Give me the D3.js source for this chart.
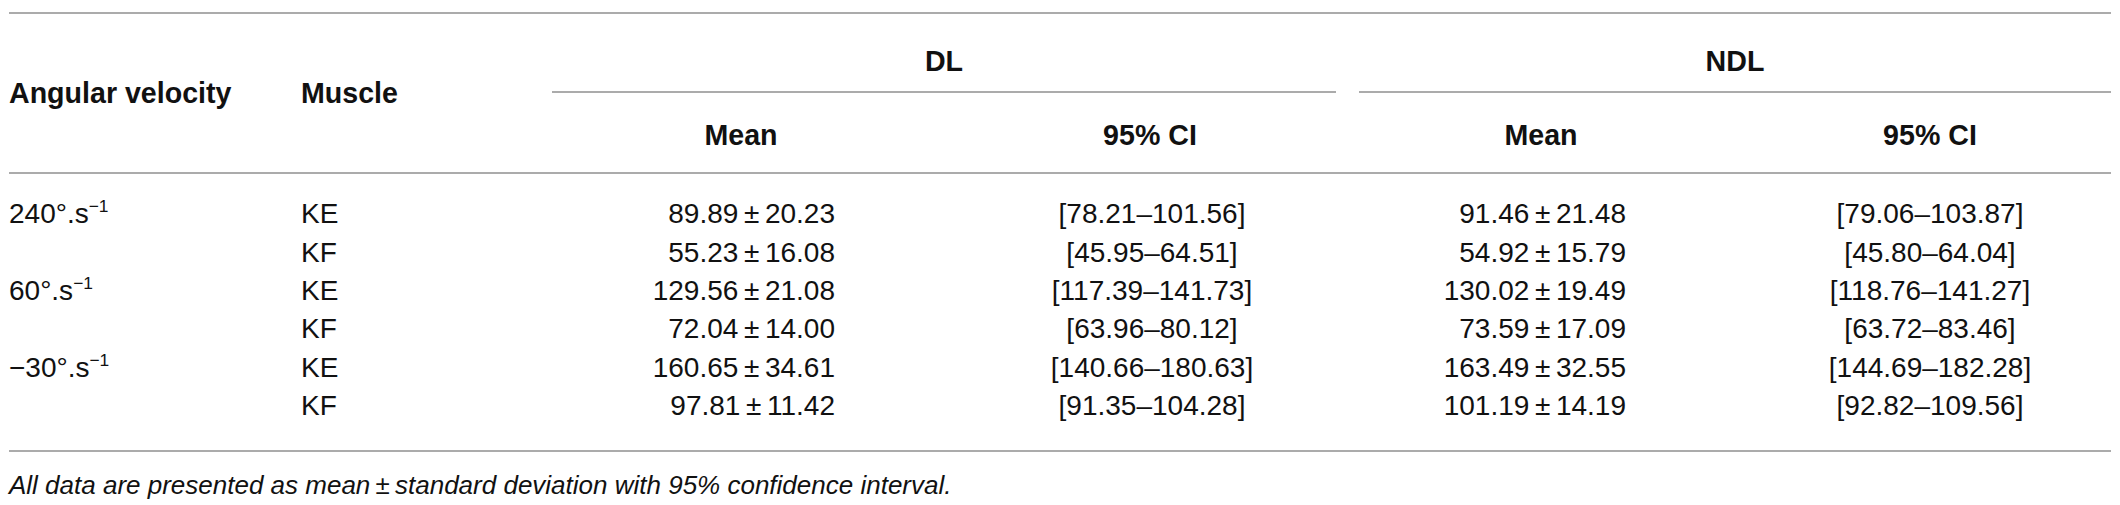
<!DOCTYPE html>
<html>
<head>
<meta charset="utf-8">
<script src="https://cdn.jsdelivr.net/npm/d3@7"></script>
<style>
  html, body { margin: 0; padding: 0; background: #fff; }
  svg { display: block; }
  text { font-family: "Liberation Sans", Arial, Helvetica, sans-serif; fill: #111; }
</style>
</head>
<body>
<script>
// table values
var velocities = ["240°.s", "60°.s", "−30°.s"];
var muscles = ["KE", "KF", "KE", "KF", "KE", "KF"];
var dlMean = [89.89, 55.23, 129.56, 72.04, 160.65, 97.81];
var dlSD = [20.23, 16.08, 21.08, 14.00, 34.61, 11.42];
var dlLow = [78.21, 45.95, 117.39, 63.96, 140.66, 91.35];
var dlHigh = [101.56, 64.51, 141.73, 80.12, 180.63, 104.28];
var ndlMean = [91.46, 54.92, 130.02, 73.59, 163.49, 101.19];
var ndlSD = [21.48, 15.79, 19.49, 17.09, 32.55, 14.19];
var ndlLow = [79.06, 45.80, 118.76, 63.72, 144.69, 92.82];
var ndlHigh = [103.87, 64.04, 141.27, 83.46, 182.28, 109.56];
var groups = ["DL", "NDL"];
var subHeads = ["Mean", "95% CI"];
var note = "All data are presented as mean\u2009±\u2009standard deviation with 95% confidence interval.";

var svgWidth = 2120;
var svgHeight = 505;
var fontSize = 28;
var headSize = 28.6;
var ruleColor = "#8f8f8f";
var fmt = d3.format(".2f");

var svg = d3.select("body")
  .append("svg")
  .attr("width", svgWidth)
  .attr("height", svgHeight);

// row positions
var y = d3.scaleBand()
  .domain(d3.range(muscles.length))
  .range([194, 424]);

// column anchors
var x = d3.scaleOrdinal()
  .domain(["vel", "mus", "dlMean", "dlCI", "ndlMean", "ndlCI"])
  .range([9, 301, 835, 1152, 1626, 1930]);

var headX = d3.scaleOrdinal()
  .domain(["dlMean", "dlCI", "ndlMean", "ndlCI"])
  .range([741, 1150, 1541, 1930]);

var groupSpan = d3.scaleOrdinal()
  .domain(groups)
  .range([[552, 1336], [1359, 2111]]);

var base = fontSize * 0.36; // centre -> baseline

// horizontal rules
[13, 173, 451].forEach(function(ry) {
  svg.append("line")
    .attr("x1", 9).attr("x2", 2111)
    .attr("y1", ry).attr("y2", ry)
    .attr("stroke", ruleColor)
    .attr("stroke-width", 1.6);
});

// group headers
groups.forEach(function(g) {
  var span = groupSpan(g);
  svg.append("text")
    .attr("x", (span[0] + span[1]) / 2)
    .attr("y", 61 + base)
    .attr("text-anchor", "middle")
    .attr("font-weight", "bold")
    .attr("font-size", headSize)
    .text(g);
  svg.append("line")
    .attr("x1", span[0]).attr("x2", span[1])
    .attr("y1", 92).attr("y2", 92)
    .attr("stroke", ruleColor)
    .attr("stroke-width", 1.6);
});

svg.append("text")
  .attr("x", x("vel")).attr("y", 103)
  .attr("font-weight", "bold").attr("font-size", headSize)
  .text("Angular velocity");

svg.append("text")
  .attr("x", x("mus")).attr("y", 103)
  .attr("font-weight", "bold").attr("font-size", headSize)
  .text("Muscle");

["dlMean", "dlCI", "ndlMean", "ndlCI"].forEach(function(k, i) {
  svg.append("text")
    .attr("x", headX(k)).attr("y", 135 + base)
    .attr("text-anchor", "middle")
    .attr("font-weight", "bold").attr("font-size", headSize)
    .text(subHeads[i % 2]);
});

// body rows
var rows = svg.selectAll("g.row")
  .data(muscles)
  .enter()
  .append("g")
  .attr("class", "row")
  .attr("transform", function(d, i) {
    return "translate(0," + (y(i) + y.bandwidth() / 2 + base) + ")";
  });

rows.filter(function(d, i) { return i % 2 === 0; })
  .append("text")
  .attr("x", x("vel"))
  .attr("font-size", fontSize)
  .each(function(d, i) {
    var t = d3.select(this);
    t.append("tspan").text(velocities[i]);
    t.append("tspan")
      .attr("dy", -11)
      .attr("font-size", fontSize * 0.62)
      .text("−1");
  });

rows.append("text")
  .attr("x", x("mus"))
  .attr("font-size", fontSize)
  .text(function(d) { return d; });

rows.append("text")
  .attr("x", x("dlMean"))
  .attr("text-anchor", "end")
  .attr("font-size", fontSize)
  .text(function(d, i) { return fmt(dlMean[i]) + "\u2009±\u2009" + fmt(dlSD[i]); });

rows.append("text")
  .attr("x", x("dlCI"))
  .attr("text-anchor", "middle")
  .attr("font-size", fontSize)
  .text(function(d, i) { return "[" + fmt(dlLow[i]) + "–" + fmt(dlHigh[i]) + "]"; });

rows.append("text")
  .attr("x", x("ndlMean"))
  .attr("text-anchor", "end")
  .attr("font-size", fontSize)
  .text(function(d, i) { return fmt(ndlMean[i]) + "\u2009±\u2009" + fmt(ndlSD[i]); });

rows.append("text")
  .attr("x", x("ndlCI"))
  .attr("text-anchor", "middle")
  .attr("font-size", fontSize)
  .text(function(d, i) { return "[" + fmt(ndlLow[i]) + "–" + fmt(ndlHigh[i]) + "]"; });

// footnote
svg.append("text")
  .attr("x", 9)
  .attr("y", 485 + 26 * 0.36)
  .attr("font-style", "italic")
  .attr("font-size", 26)
  .text(note);
</script>
</body>
</html>
